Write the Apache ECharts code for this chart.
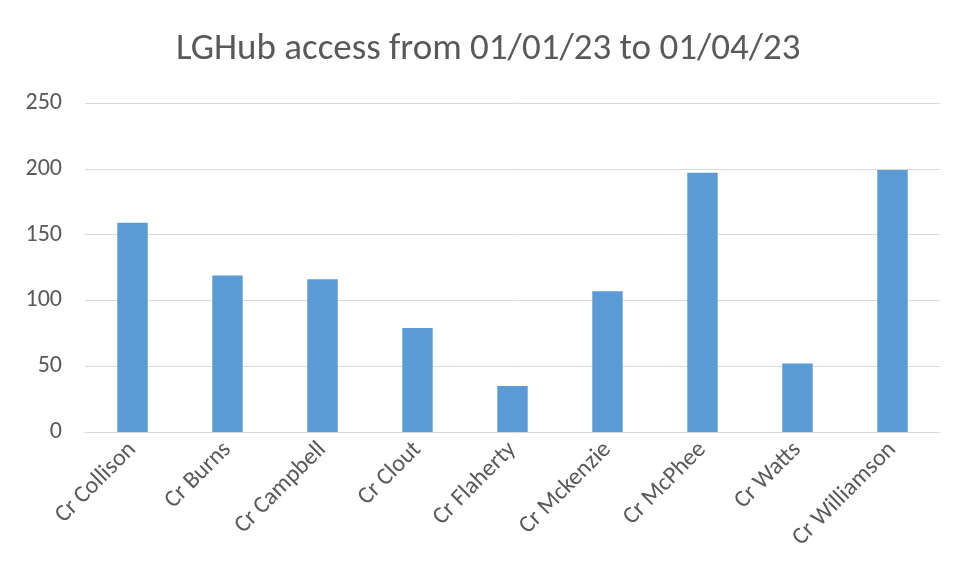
<!DOCTYPE html>
<html>
<head>
<meta charset="utf-8">
<script src="https://cdn.jsdelivr.net/npm/echarts@6/dist/echarts.min.js"></script>
<style>html,body{margin:0;padding:0;background:#fff;}#chart{width:955px;height:575px;}</style>
</head>
<body>
<div id="chart"></div>
<script>
const titleText = 'LGHub access from 01/01/23 to 01/04/23';
const categories = ['Cr Collison','Cr Burns','Cr Campbell','Cr Clout','Cr Flaherty','Cr Mckenzie','Cr McPhee','Cr Watts','Cr Williamson'];
const accessCounts = [159, 119, 116, 79, 35, 107, 197, 52, 199];
const yTicks = [0, 50, 100, 150, 200, 250];

const chart = echarts.init(document.getElementById('chart'));
const fontFam = "Carlito, 'Open Sans', 'Liberation Sans', sans-serif";
chart.setOption({
  animation: false,
  backgroundColor: '#ffffff',
  title: {
    text: titleText,
    left: 176,
    top: 31,
    padding: 0,
    textStyle: { fontFamily: fontFam, fontSize: 37, fontWeight: 'normal', color: '#595959' }
  },
  grid: { left: 85, right: 15, top: 103, bottom: 143 },
  xAxis: {
    type: 'category',
    data: categories,
    axisLine: { lineStyle: { color: '#d9d9d9', width: 1 } },
    axisTick: { show: false },
    axisLabel: { rotate: 45, color: '#595959', fontFamily: fontFam, fontSize: 24, margin: 14, interval: 0 }
  },
  yAxis: {
    type: 'value',
    min: yTicks[0],
    max: yTicks[yTicks.length - 1],
    interval: 50,
    axisLine: { show: false },
    axisTick: { show: false },
    axisLabel: { color: '#595959', fontFamily: fontFam, fontSize: 24, margin: 23 },
    splitLine: { lineStyle: { color: '#d9d9d9', width: 1 } }
  },
  series: [{
    type: 'bar',
    data: accessCounts,
    barWidth: '32%',
    itemStyle: { color: '#5b9bd5' }
  }]
});
</script>
</body>
</html>
